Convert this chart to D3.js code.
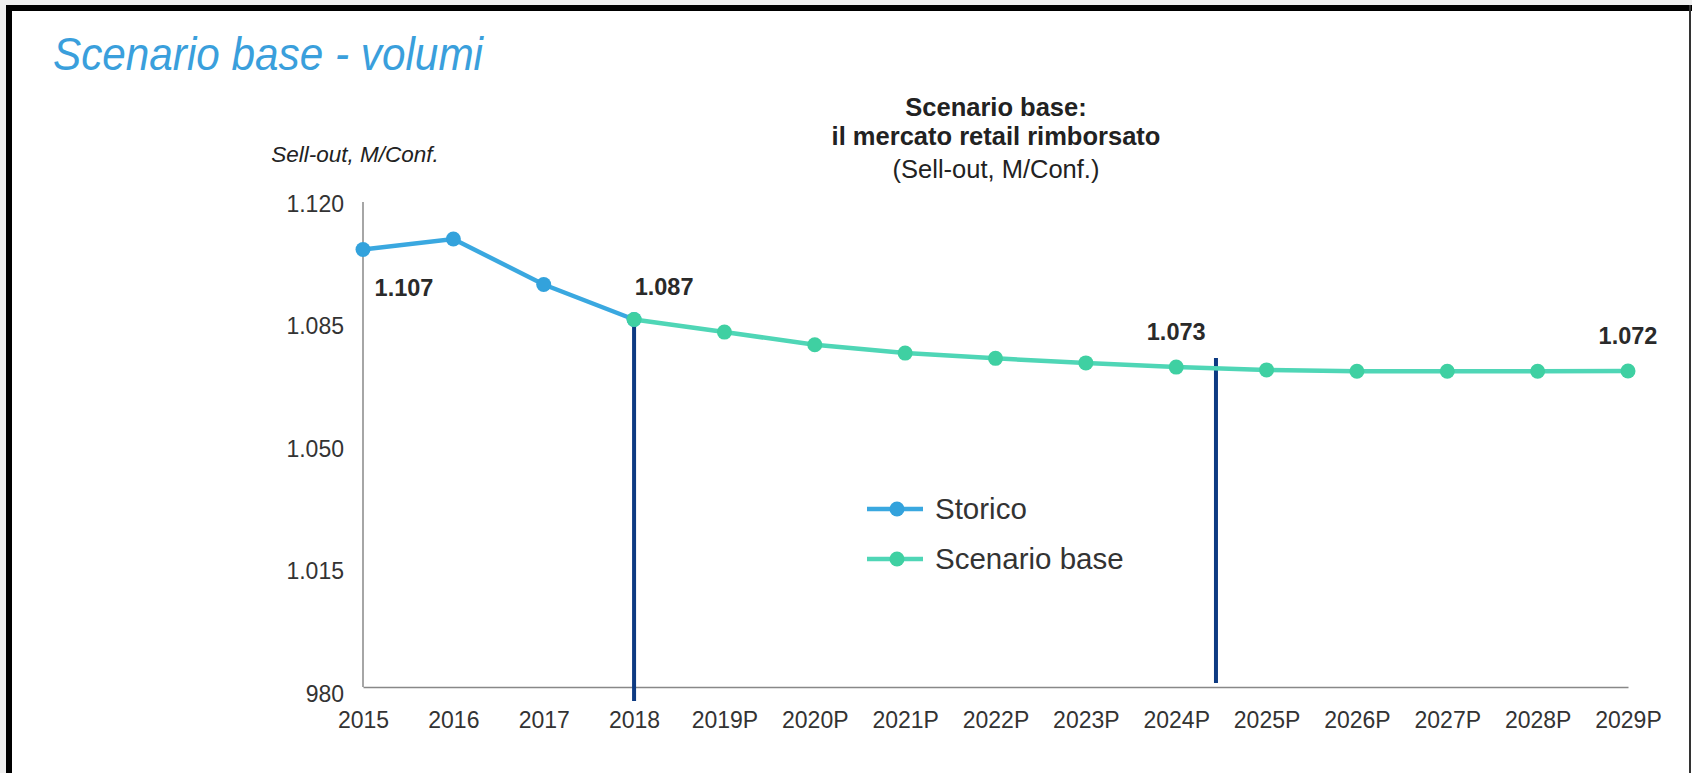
<!DOCTYPE html>
<html>
<head>
<meta charset="utf-8">
<script src="https://cdn.jsdelivr.net/npm/d3@7/dist/d3.min.js"></script>
<style>
  body { margin: 0; background: #efefef; }
  text { font-family: "Liberation Sans", Arial, sans-serif; }
</style>
</head>
<body>
<svg id="chart" width="1692" height="773"></svg>
<script>
// data (M/Conf.)
var years = ["2015", "2016", "2017", "2018", "2019P", "2020P", "2021P", "2022P",
             "2023P", "2024P", "2025P", "2026P", "2027P", "2028P", "2029P"];
var storicoYears = ["2015", "2016", "2017", "2018"];
var storicoValues = [1107, 1110, 1097, 1087];
var baseYears = ["2018", "2019P", "2020P", "2021P", "2022P", "2023P", "2024P",
                 "2025P", "2026P", "2027P", "2028P", "2029P"];
var baseValues = [1087, 1083.4, 1079.8, 1077.4, 1075.9, 1074.6, 1073.4,
                  1072.6, 1072.2, 1072.2, 1072.2, 1072.3];
var yTicks = [980, 1015, 1050, 1085, 1120];
var labelYears = ["2015", "2018", "2024P", "2029P"];
var labelValues = [1107, 1087, 1073, 1072];
var legendNames = ["Storico", "Scenario base"];

var colStorico = "#3aa8e0", colStoricoDot = "#33a2dc";
var colBase = "#4fd6b6", colBaseDot = "#3fd0a2";
var navy = "#0d3a82";

var svg = d3.select("#chart");

// frame
svg.append("rect").attr("x", 6).attr("y", 5).attr("width", 1686).attr("height", 768).attr("fill", "#fff");
svg.append("rect").attr("x", 6).attr("y", 5).attr("width", 6).attr("height", 768).attr("fill", "#000");
svg.append("rect").attr("x", 6).attr("y", 5).attr("width", 1686).attr("height", 6).attr("fill", "#000");
svg.append("rect").attr("x", 1689).attr("y", 5).attr("width", 2).attr("height", 768).attr("fill", "#333");

// slide title
svg.append("text")
    .attr("x", 53).attr("y", 70)
    .attr("font-size", 47).attr("font-style", "italic")
    .attr("textLength", 430).attr("lengthAdjust", "spacingAndGlyphs")
    .attr("fill", "#3a9fdc")
    .text("Scenario base - volumi");

// chart title
var t = svg.append("g").attr("text-anchor", "middle").attr("fill", "#222").attr("font-size", 25.5);
t.append("text").attr("x", 996).attr("y", 116).attr("font-weight", "bold").text("Scenario base:");
t.append("text").attr("x", 996).attr("y", 145).attr("font-weight", "bold").text("il mercato retail rimborsato");
t.append("text").attr("x", 996).attr("y", 178).text("(Sell-out, M/Conf.)");

// y label
svg.append("text")
    .attr("x", 355).attr("y", 162)
    .attr("text-anchor", "middle").attr("font-size", 22.5).attr("font-style", "italic")
    .attr("fill", "#222")
    .text("Sell-out, M/Conf.");

var x = d3.scalePoint().domain(years).range([363, 1628]);
var y = d3.scaleLinear().domain([980, 1120]).range([694, 204]);
var axisY = 687;

var itFormat = d3.formatLocale({decimal: ",", thousands: ".", grouping: [3], currency: ["€", ""]}).format(",d");

// y axis
var gy = svg.append("g")
    .attr("transform", "translate(363,0)")
    .call(d3.axisLeft(y).tickValues(yTicks).tickSize(0).tickPadding(19).tickFormat(itFormat));
gy.select(".domain").remove();
gy.selectAll("text").attr("font-size", 23).attr("fill", "#333").attr("font-family", null);
svg.append("line").attr("x1", 363).attr("x2", 363).attr("y1", 202).attr("y2", axisY)
    .attr("stroke", "#888").attr("stroke-width", 1.5);

// x axis
var gx = svg.append("g")
    .attr("transform", "translate(0," + axisY + ")")
    .call(d3.axisBottom(x).tickSize(0).tickPadding(25));
gx.select(".domain").attr("stroke", "#888").attr("stroke-width", 1.5);
gx.selectAll("text").attr("font-size", 23).attr("fill", "#333").attr("font-family", null);

// divider lines
svg.append("line")
    .attr("x1", x("2018")).attr("x2", x("2018"))
    .attr("y1", y(1087)).attr("y2", axisY + 14)
    .attr("stroke", navy).attr("stroke-width", 4);
var xd = x("2024P") + x.step() * 0.44;
svg.append("line")
    .attr("x1", xd).attr("x2", xd)
    .attr("y1", y(1076)).attr("y2", axisY - 4)
    .attr("stroke", navy).attr("stroke-width", 4);

// lines
var line = d3.line().x(function(d) { return x(d[0]); }).y(function(d) { return y(d[1]); });
var storico = d3.zip(storicoYears, storicoValues);
var base = d3.zip(baseYears, baseValues);

svg.append("path").datum(storico).attr("d", line)
    .attr("fill", "none").attr("stroke", colStorico).attr("stroke-width", 4.5);
svg.selectAll(".dotS").data(storico).enter().append("circle")
    .attr("cx", function(d) { return x(d[0]); }).attr("cy", function(d) { return y(d[1]); })
    .attr("r", 7.5).attr("fill", colStoricoDot);

svg.append("path").datum(base).attr("d", line)
    .attr("fill", "none").attr("stroke", colBase).attr("stroke-width", 4.5);
svg.selectAll(".dotB").data(base).enter().append("circle")
    .attr("cx", function(d) { return x(d[0]); }).attr("cy", function(d) { return y(d[1]); })
    .attr("r", 7.5).attr("fill", colBaseDot);

// value labels
var labelDx = [41, 30, 0, 0], labelDy = [46, -25, -29, -28];
svg.selectAll(".vlab").data(labelYears).enter().append("text")
    .attr("x", function(d, i) { return x(d) + labelDx[i]; })
    .attr("y", function(d, i) { return y(labelValues[i]) + labelDy[i]; })
    .attr("text-anchor", "middle").attr("font-size", 23.5).attr("font-weight", "bold")
    .attr("fill", "#2a2a2a")
    .text(function(d, i) { return itFormat(labelValues[i]); });

// legend
var legCols = [[colStorico, colStoricoDot], [colBase, colBaseDot]];
var leg = svg.selectAll(".leg").data(legendNames).enter().append("g")
    .attr("transform", function(d, i) { return "translate(867," + (509 + i * 50) + ")"; });
leg.append("line").attr("x1", 0).attr("x2", 56)
    .attr("stroke", function(d, i) { return legCols[i][0]; }).attr("stroke-width", 4.5);
leg.append("circle").attr("cx", 30).attr("r", 7.5)
    .attr("fill", function(d, i) { return legCols[i][1]; });
leg.append("text").attr("x", 68).attr("y", 10)
    .attr("font-size", 29.5).attr("fill", "#333")
    .text(function(d) { return d; });
</script>
</body>
</html>
